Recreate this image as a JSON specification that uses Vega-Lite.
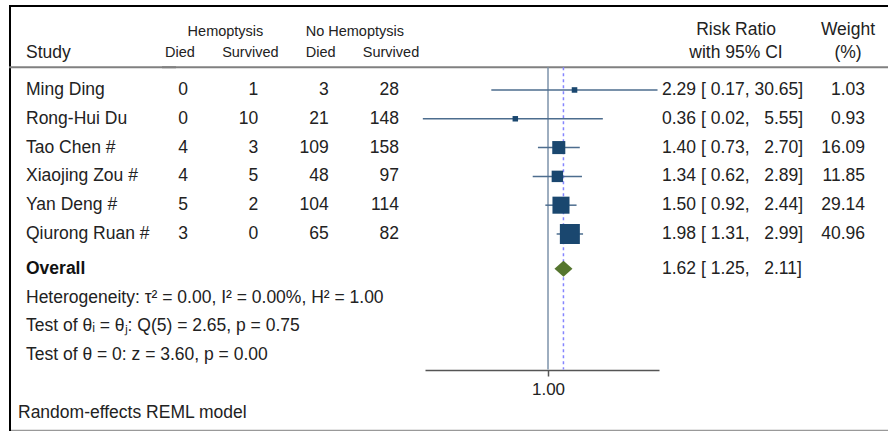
{
  "$schema": "https://vega.github.io/schema/vega-lite/v6.json",
  "padding": {"left": 8, "top": 4, "right": 0, "bottom": 1},
  "spacing": 0,
  "bounds": "flush",
  "config": {"view": {"stroke": null}, "font": "Liberation Sans"},
  "datasets": {
    "one": [{}],
    "studies": [
      {"study": "Ming Ding", "line": 1, "hd": 0, "hs": 1, "nd": 3, "ns": 28, "rr": 2.29, "lo": 0.17, "hi": 30.65, "w": 1.03, "ci": "2.29 [ 0.17, 30.65]"},
      {"study": "Rong-Hui Du", "line": 2, "hd": 0, "hs": 10, "nd": 21, "ns": 148, "rr": 0.36, "lo": 0.02, "hi": 5.55, "w": 0.93, "ci": "0.36 [ 0.02,\u00a0\u00a0\u00a05.55]"},
      {"study": "Tao Chen #", "line": 3, "hd": 4, "hs": 3, "nd": 109, "ns": 158, "rr": 1.40, "lo": 0.73, "hi": 2.70, "w": 16.09, "ci": "1.40 [ 0.73,\u00a0\u00a0\u00a02.70]"},
      {"study": "Xiaojing Zou #", "line": 4, "hd": 4, "hs": 5, "nd": 48, "ns": 97, "rr": 1.34, "lo": 0.62, "hi": 2.89, "w": 11.85, "ci": "1.34 [ 0.62,\u00a0\u00a0\u00a02.89]"},
      {"study": "Yan Deng #", "line": 5, "hd": 5, "hs": 2, "nd": 104, "ns": 114, "rr": 1.50, "lo": 0.92, "hi": 2.44, "w": 29.14, "ci": "1.50 [ 0.92,\u00a0\u00a0\u00a02.44]"},
      {"study": "Qiurong Ruan #", "line": 6, "hd": 3, "hs": 0, "nd": 65, "ns": 82, "rr": 1.98, "lo": 1.31, "hi": 2.99, "w": 40.96, "ci": "1.98 [ 1.31,\u00a0\u00a0\u00a02.99]"}
    ],
    "overall": [
      {"study": "Overall", "line": 7, "rr": 1.62, "lo": 1.25, "hi": 2.11, "ci": "1.62 [ 1.25,\u00a0\u00a0\u00a02.11]"}
    ],
    "stats": [
      {"line": 8, "text": "Heterogeneity: τ² = 0.00, I² = 0.00%, H² = 1.00"},
      {"line": 9, "text": "Test of θᵢ = θⱼ: Q(5) = 2.65, p = 0.75"},
      {"line": 10, "text": "Test of θ = 0: z = 3.60, p = 0.00"}
    ],
    "notes": [
      {"line": 12, "text": "Random-effects REML model"}
    ],
    "headers": [
      {"p": "A1", "col": "Study", "line": 0, "text": "Study"},
      {"p": "A2", "col": "hd", "line": 0, "text": "Died"},
      {"p": "A2", "col": "hs", "line": 0, "text": "Survived"},
      {"p": "A2", "col": "nd", "line": 0, "text": "Died"},
      {"p": "A2", "col": "ns", "line": 0, "text": "Survived"},
      {"p": "A2g", "col": "hs", "line": -1, "text": "Hemoptysis"},
      {"p": "A2g", "col": "ns", "line": -1, "text": "No Hemoptysis"},
      {"p": "C", "col": "RR", "line": -1, "text": "Risk Ratio"},
      {"p": "C", "col": "RR", "line": 0, "text": "with 95% CI"},
      {"p": "C", "col": "W", "line": -1, "text": "Weight"},
      {"p": "C", "col": "W", "line": 0, "text": "(%)"}
    ]
  },
  "hconcat": [
    {
      "width": 153,
      "height": 426,
      "layer": [
        {
          "data": {"name": "one"},
          "mark": {"type": "rule", "color": "#000", "strokeWidth": 2, "yOffset": 1},
          "encoding": {"y": {"datum": -1.95, "type": "quantitative", "scale": {"domain": [-1.95, 12.84], "reverse": true, "nice": false, "zero": false}, "axis": null}}
        },
        {
          "data": {"name": "one"},
          "mark": {"type": "rule", "color": "#999", "strokeWidth": 1.5, "yOffset": -0.5},
          "encoding": {"y": {"datum": 12.84, "type": "quantitative"}}
        },
        {
          "data": {"name": "one"},
          "mark": {"type": "rule", "color": "#000", "strokeWidth": 2, "xOffset": 1},
          "encoding": {"x": {"datum": "Study", "type": "nominal", "scale": {"type": "point", "padding": 0, "align": 0}, "axis": null}}
        },
        {
          "data": {"name": "one"},
          "mark": {"type": "rule", "color": "#808080", "strokeWidth": 2, "yOffset": 6, "xOffset": 14},
          "encoding": {"y": {"datum": 0, "type": "quantitative"}}
        },
        {
          "data": {"name": "headers"},
          "transform": [{"filter": "datum.p == 'A1'"}],
          "mark": {"type": "text", "align": "left", "dx": 17, "dy": -8, "fontSize": 17.5, "fill": "#222"},
          "encoding": {
            "x": {"datum": "Study", "type": "nominal"},
            "y": {"field": "line", "type": "quantitative"},
            "text": {"field": "text"}
          }
        },
        {
          "data": {"name": "studies"},
          "mark": {"type": "text", "align": "left", "dx": 17, "fontSize": 17.5, "fill": "#222"},
          "encoding": {
            "x": {"datum": "Study", "type": "nominal"},
            "y": {"field": "line", "type": "quantitative"},
            "text": {"field": "study"}
          }
        },
        {
          "data": {"name": "overall"},
          "mark": {"type": "text", "align": "left", "dx": 17, "dy": 6, "fontSize": 17.5, "fontWeight": "bold", "fill": "#111"},
          "encoding": {
            "x": {"datum": "Study", "type": "nominal"},
            "y": {"field": "line", "type": "quantitative"},
            "text": {"field": "study"}
          }
        },
        {
          "data": {"name": "stats"},
          "mark": {"type": "text", "align": "left", "dx": 17, "dy": 6, "fontSize": 17.5, "fill": "#222"},
          "encoding": {
            "x": {"datum": "Study", "type": "nominal"},
            "y": {"field": "line", "type": "quantitative"},
            "text": {"field": "text"}
          }
        },
        {
          "data": {"name": "notes"},
          "mark": {"type": "text", "align": "left", "dx": 9, "dy": 6, "fontSize": 17.5, "fill": "#222"},
          "encoding": {
            "x": {"datum": "Study", "type": "nominal"},
            "y": {"field": "line", "type": "quantitative"},
            "text": {"field": "text"}
          }
        }
      ]
    },
    {
      "width": 263,
      "height": 426,
      "layer": [
        {
          "data": {"name": "one"},
          "mark": {"type": "rule", "color": "#000", "strokeWidth": 2, "yOffset": 1},
          "encoding": {"y": {"datum": -1.95, "type": "quantitative", "scale": {"domain": [-1.95, 12.84], "reverse": true, "nice": false, "zero": false}, "axis": null}}
        },
        {
          "data": {"name": "one"},
          "mark": {"type": "rule", "color": "#999", "strokeWidth": 1.5, "yOffset": -0.5},
          "encoding": {"y": {"datum": 12.84, "type": "quantitative"}}
        },
        {
          "data": {"name": "one"},
          "mark": {"type": "rule", "color": "#808080", "strokeWidth": 2, "yOffset": 6},
          "encoding": {"y": {"datum": 0, "type": "quantitative"}}
        },
        {
          "data": {"name": "studies"},
          "transform": [{"fold": ["hd", "hs", "nd", "ns"], "as": ["key", "value"]}],
          "mark": {"type": "text", "align": "right", "fontSize": 17.5, "fill": "#222"},
          "encoding": {
            "x": {"field": "key", "type": "nominal", "scale": {"type": "point", "domain": ["hd", "hs", "nd", "ns"], "padding": 0.37}, "axis": null},
            "y": {"field": "line", "type": "quantitative"},
            "text": {"field": "value", "type": "quantitative"}
          }
        },
        {
          "data": {"name": "headers"},
          "transform": [{"filter": "datum.p == 'A2'"}],
          "mark": {"type": "text", "align": "center", "dx": -8, "dy": -8, "fontSize": 14.5, "fill": "#222"},
          "encoding": {
            "x": {"field": "col", "type": "nominal"},
            "y": {"field": "line", "type": "quantitative"},
            "text": {"field": "text"}
          }
        },
        {
          "data": {"name": "headers"},
          "transform": [{"filter": "datum.p == 'A2g'"}],
          "mark": {"type": "text", "align": "right", "dx": 5, "fontSize": 14.5, "fill": "#222"},
          "encoding": {
            "x": {"field": "col", "type": "nominal"},
            "y": {"field": "line", "type": "quantitative"},
            "text": {"field": "text"}
          }
        }
      ]
    },
    {
      "width": 234,
      "height": 426,
      "layer": [
        {
          "data": {"name": "one"},
          "mark": {"type": "rule", "color": "#000", "strokeWidth": 2, "yOffset": 1},
          "encoding": {"y": {"datum": -1.95, "type": "quantitative", "scale": {"domain": [-1.95, 12.84], "reverse": true, "nice": false, "zero": false}, "axis": null}}
        },
        {
          "data": {"name": "one"},
          "mark": {"type": "rule", "color": "#999", "strokeWidth": 1.5, "yOffset": -0.5},
          "encoding": {"y": {"datum": 12.84, "type": "quantitative"}}
        },
        {
          "data": {"name": "one"},
          "mark": {"type": "rule", "color": "#808080", "strokeWidth": 2, "yOffset": 6},
          "encoding": {"y": {"datum": 0, "type": "quantitative"}}
        },
        {
          "data": {"name": "one"},
          "mark": {"type": "rule", "color": "#7d93ab", "strokeWidth": 1.5, "yOffset": 6, "y2Offset": 6},
          "encoding": {
            "x": {"datum": 1, "type": "quantitative", "scale": {"type": "log", "domain": [0.0214, 32.1], "nice": false}, "axis": {"values": [1], "format": ".2f", "offset": -61, "title": null, "grid": false, "domainColor": "#555", "domainWidth": 1.5, "tickColor": "#555", "tickWidth": 1.5, "tickSize": 6, "labelFontSize": 17, "labelColor": "#222", "labelPadding": 5, "labelFont": "Liberation Sans"}},
            "y": {"datum": 0, "type": "quantitative"},
            "y2": {"datum": 10.5}
          }
        },
        {
          "data": {"name": "overall"},
          "mark": {"type": "rule", "color": "#8585ff", "strokeWidth": 1.5, "strokeDash": [3, 3], "yOffset": 6, "y2Offset": 6},
          "encoding": {
            "x": {"field": "rr", "type": "quantitative"},
            "y": {"datum": 0, "type": "quantitative"},
            "y2": {"datum": 10.5}
          }
        },
        {
          "data": {"name": "studies"},
          "mark": {"type": "rule", "color": "#4d6d8e", "strokeWidth": 1.5},
          "encoding": {
            "x": {"field": "lo", "type": "quantitative"},
            "x2": {"field": "hi"},
            "y": {"field": "line", "type": "quantitative"}
          }
        },
        {
          "data": {"name": "studies"},
          "mark": {"type": "point", "shape": "square", "filled": true, "color": "#1a476f", "opacity": 1},
          "encoding": {
            "x": {"field": "rr", "type": "quantitative"},
            "y": {"field": "line", "type": "quantitative"},
            "size": {"field": "w", "type": "quantitative", "scale": {"domain": [0.93, 40.96], "range": [30, 400], "zero": false}, "legend": null}
          }
        },
        {
          "data": {"name": "overall"},
          "mark": {"type": "point", "shape": "M-1,0L0,-0.89L1,0L0,0.89Z", "filled": true, "color": "#55752f", "opacity": 1, "size": 324, "yOffset": 6},
          "encoding": {
            "x": {"field": "rr", "type": "quantitative"},
            "y": {"field": "line", "type": "quantitative"}
          }
        }
      ]
    },
    {
      "width": 230,
      "height": 426,
      "layer": [
        {
          "data": {"name": "one"},
          "mark": {"type": "rule", "color": "#000", "strokeWidth": 2, "yOffset": 1},
          "encoding": {"y": {"datum": -1.95, "type": "quantitative", "scale": {"domain": [-1.95, 12.84], "reverse": true, "nice": false, "zero": false}, "axis": null}}
        },
        {
          "data": {"name": "one"},
          "mark": {"type": "rule", "color": "#999", "strokeWidth": 1.5, "yOffset": -0.5},
          "encoding": {"y": {"datum": 12.84, "type": "quantitative"}}
        },
        {
          "data": {"name": "one"},
          "mark": {"type": "rule", "color": "#808080", "strokeWidth": 2, "yOffset": 6, "x2Offset": -8},
          "encoding": {"y": {"datum": 0, "type": "quantitative"}}
        },
        {
          "data": {"name": "headers"},
          "transform": [{"filter": "datum.p == 'C' && datum.line == -1"}],
          "mark": {"type": "text", "align": "center", "dy": -2, "fontSize": 17.5, "fill": "#222"},
          "encoding": {
            "x": {"field": "col", "type": "nominal", "scale": {"type": "point", "domain": ["RR", "W"], "padding": 0.527, "align": 0.6525}, "axis": null},
            "y": {"field": "line", "type": "quantitative"},
            "text": {"field": "text"}
          }
        },
        {
          "data": {"name": "headers"},
          "transform": [{"filter": "datum.p == 'C' && datum.line == 0"}],
          "mark": {"type": "text", "align": "center", "dy": -8, "fontSize": 17.5, "fill": "#222"},
          "encoding": {
            "x": {"field": "col", "type": "nominal"},
            "y": {"field": "line", "type": "quantitative"},
            "text": {"field": "text"}
          }
        },
        {
          "data": {"name": "studies"},
          "mark": {"type": "text", "align": "left", "dx": -74, "fontSize": 17.5, "fill": "#222"},
          "encoding": {
            "x": {"datum": "RR", "type": "nominal"},
            "y": {"field": "line", "type": "quantitative"},
            "text": {"field": "ci"}
          }
        },
        {
          "data": {"name": "overall"},
          "mark": {"type": "text", "align": "left", "dx": -74, "dy": 6, "fontSize": 17.5, "fill": "#222"},
          "encoding": {
            "x": {"datum": "RR", "type": "nominal"},
            "y": {"field": "line", "type": "quantitative"},
            "text": {"field": "ci"}
          }
        },
        {
          "data": {"name": "studies"},
          "mark": {"type": "text", "align": "right", "dx": 17, "fontSize": 17.5, "fill": "#222"},
          "encoding": {
            "x": {"datum": "W", "type": "nominal"},
            "y": {"field": "line", "type": "quantitative"},
            "text": {"field": "w", "type": "quantitative", "format": ".2f"}
          }
        }
      ]
    }
  ]
}
